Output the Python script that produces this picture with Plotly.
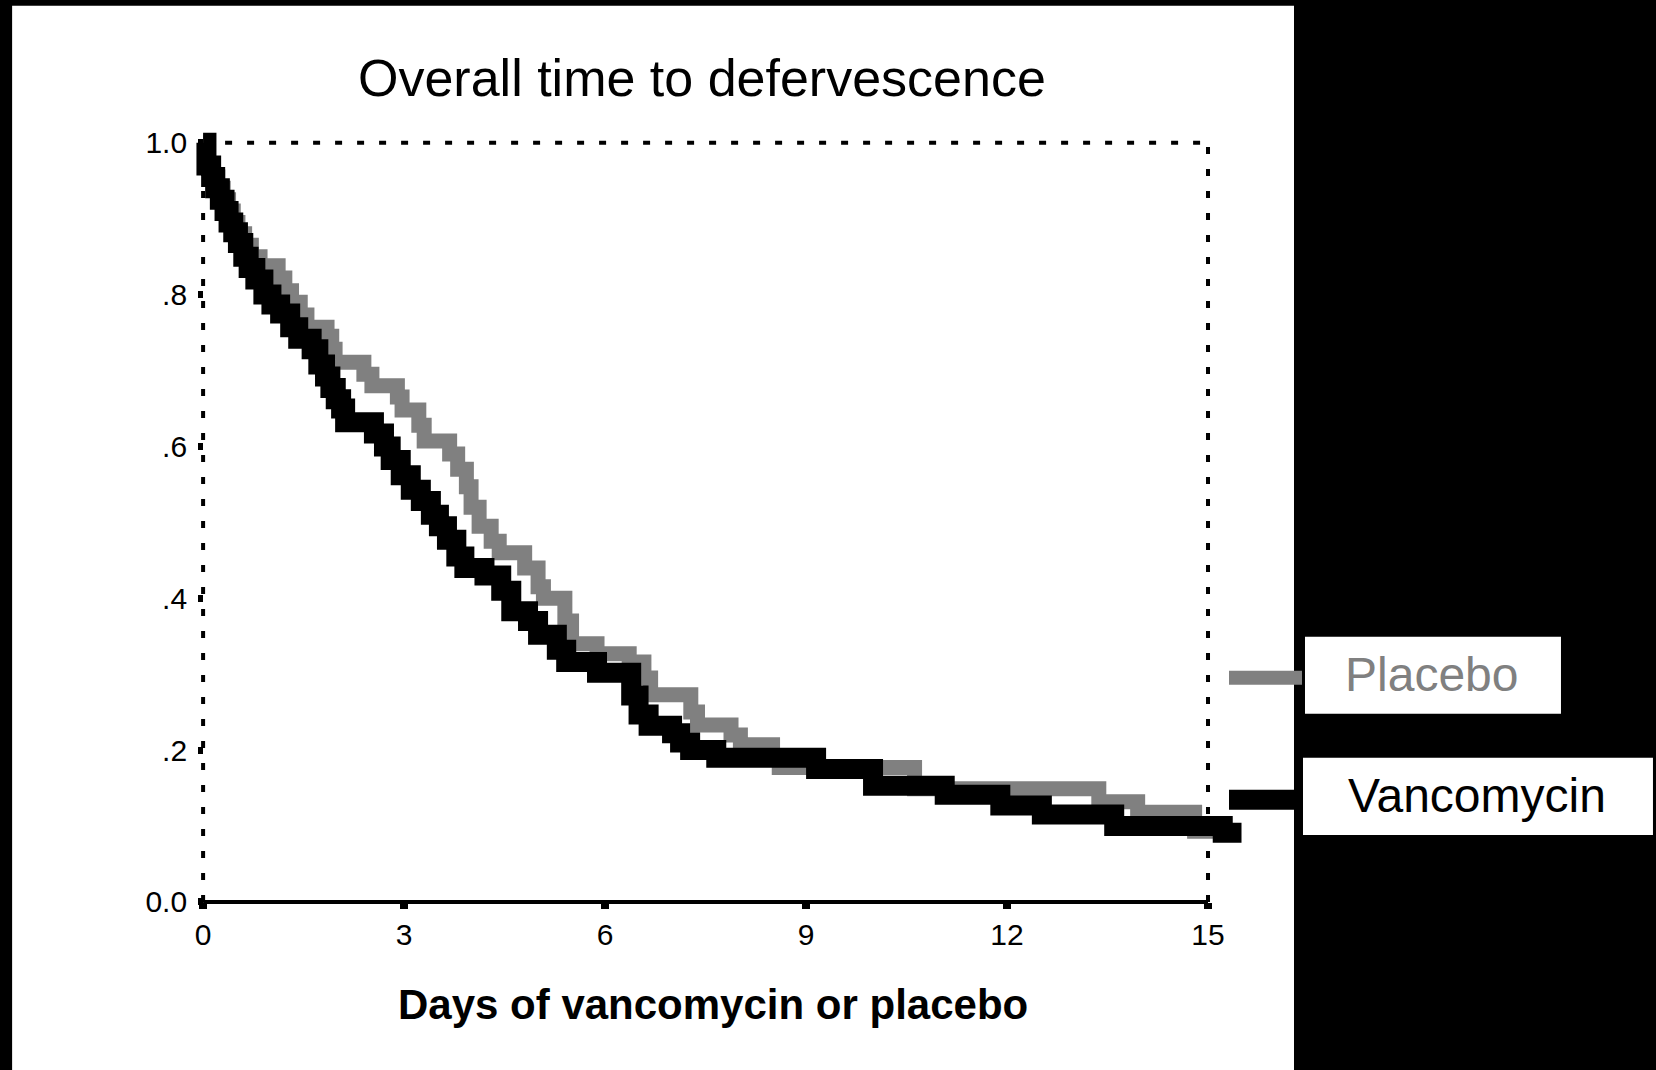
import plotly.graph_objects as go

# ---------------- data ----------------
vanco_days = [0, 0.05, 0.12, 0.18, 0.25, 0.32, 0.38, 0.45, 0.52, 0.60, 0.68, 0.78, 0.90, 1.02, 1.15,
              1.30, 1.42, 1.62, 1.72, 1.82, 1.90, 1.98, 2.06, 2.12, 2.55, 2.70, 2.80, 2.95, 3.10, 3.25,
              3.40, 3.52, 3.64, 3.78, 3.90, 4.20, 4.45, 4.60, 4.85, 5.00, 5.28, 5.42, 5.88, 6.39, 6.50,
              6.65, 7.00, 7.12, 7.27, 7.66, 9.15, 10.00, 11.07, 11.90, 12.52, 13.60, 15.22, 15.50]
vanco_surv = [1.0, 0.97, 0.955, 0.94, 0.925, 0.91, 0.895, 0.882, 0.868, 0.85, 0.835, 0.82, 0.80, 0.787, 0.775,
              0.757, 0.742, 0.728, 0.708, 0.692, 0.677, 0.662, 0.65, 0.632, 0.617, 0.60, 0.582, 0.562, 0.543, 0.528,
              0.51, 0.495, 0.477, 0.455, 0.44, 0.43, 0.41, 0.383, 0.37, 0.352, 0.332, 0.316, 0.302, 0.272, 0.247,
              0.232, 0.222, 0.21, 0.20, 0.19, 0.175, 0.153, 0.141, 0.127, 0.115, 0.10, 0.091, 0.091]

placebo_days = [0, 0.08, 0.15, 0.22, 0.30, 0.38, 0.45, 0.52, 0.62, 0.72, 0.85, 1.12, 1.22, 1.32, 1.45,
                1.55, 1.85, 1.92, 1.97, 2.40, 2.52, 2.90, 2.97, 3.22, 3.30, 3.68, 3.80, 3.93, 4.00, 4.12,
                4.30, 4.42, 4.80, 5.00, 5.08, 5.40, 5.50, 5.88, 6.36, 6.58, 6.68, 7.28, 7.38, 7.88, 8.02,
                8.50, 8.60, 10.62, 13.37, 13.95, 14.80, 15.12]
placebo_surv = [1.0, 0.97, 0.955, 0.94, 0.925, 0.91, 0.895, 0.88, 0.865, 0.85, 0.838, 0.822, 0.805, 0.79, 0.773,
                0.757, 0.745, 0.728, 0.711, 0.695, 0.68, 0.665, 0.648, 0.628, 0.607, 0.59, 0.57, 0.547, 0.52, 0.495,
                0.475, 0.46, 0.44, 0.415, 0.40, 0.37, 0.34, 0.327, 0.316, 0.295, 0.273, 0.25, 0.233, 0.22, 0.207,
                0.19, 0.177, 0.149, 0.132, 0.118, 0.093, 0.093]

x_ticks = [0, 3, 6, 9, 12, 15]
y_ticks = [0.0, 0.2, 0.4, 0.6, 0.8, 1.0]
y_ticktext = ["0.0", ".2", ".4", ".6", ".8", "1.0"]

title_text = "Overall time to defervescence"
xtitle_text = "Days of vancomycin or placebo"
series_names = ["Placebo", "Vancomycin"]

# ---------------- layout geometry ----------------
W, H = 1656, 1070
X0_PX, X15_PX = 203, 1208
Y0_PX, Y1_PX = 902, 143
ppd = (X15_PX - X0_PX) / 15.0
ppu = Y0_PX - Y1_PX
xmin, xmax = -0.3, 16.0
ymin, ymax = -0.012, 1.03
left = X0_PX + xmin * ppd
plot_w = (xmax - xmin) * ppd
right = W - left - plot_w
top = Y0_PX - ymax * ppu
plot_h = (ymax - ymin) * ppu
bottom = H - top - plot_h


def pxp(x):
    return (x - left) / plot_w


def pyp(y):
    return ((H - bottom) - y) / plot_h


FONT = "Liberation Sans, Arial, sans-serif"
GRAY = "#808080"

fig = go.Figure()
fig.add_trace(go.Scatter(x=placebo_days, y=placebo_surv, mode="lines", name=series_names[0],
                         line=dict(shape="hv", color=GRAY, width=15), hoverinfo="skip"))
fig.add_trace(go.Scatter(x=vanco_days, y=vanco_surv, mode="lines", name=series_names[1],
                         line=dict(shape="hv", color="black", width=20), hoverinfo="skip"))

shapes = []
# white page area over the black paper
shapes.append(dict(type="rect", xref="paper", yref="paper", x0=pxp(12), x1=pxp(1294), y0=pyp(1080), y1=pyp(6),
                   fillcolor="white", line=dict(width=0), layer="below"))
# frame
dash = "7px,15px"
shapes.append(dict(type="line", xref="x", yref="y", x0=0, x1=15, y0=1, y1=1,
                   line=dict(color="black", width=4, dash=dash), layer="below"))
shapes.append(dict(type="line", xref="x", yref="y", x0=0, x1=0, y0=0, y1=1,
                   line=dict(color="black", width=4, dash=dash), layer="below"))
shapes.append(dict(type="line", xref="x", yref="y", x0=15, x1=15, y0=0, y1=1,
                   line=dict(color="black", width=4, dash=dash), layer="below"))
shapes.append(dict(type="line", xref="x", yref="y", x0=0, x1=15, y0=0, y1=0,
                   line=dict(color="black", width=4), layer="below"))
# legend boxes and swatches
shapes.append(dict(type="rect", xref="paper", yref="paper", x0=pxp(1305), x1=pxp(1561), y0=pyp(714), y1=pyp(637),
                   fillcolor="white", line=dict(width=0)))
shapes.append(dict(type="rect", xref="paper", yref="paper", x0=pxp(1303), x1=pxp(1653), y0=pyp(835), y1=pyp(758),
                   fillcolor="white", line=dict(width=0)))
shapes.append(dict(type="line", xref="paper", yref="paper", x0=pxp(1229), x1=pxp(1302), y0=pyp(678), y1=pyp(678),
                   line=dict(color=GRAY, width=14)))
shapes.append(dict(type="line", xref="paper", yref="paper", x0=pxp(1229), x1=pxp(1303), y0=pyp(800), y1=pyp(800),
                   line=dict(color="black", width=20)))

annotations = [
    dict(text=title_text, xref="paper", yref="paper", x=pxp(702), y=pyp(78), showarrow=False,
         xanchor="center", yanchor="middle", font=dict(family=FONT, size=52, color="black")),
    dict(text="<b>" + xtitle_text + "</b>", xref="paper", yref="paper", x=pxp(713), y=pyp(1005), showarrow=False,
         xanchor="center", yanchor="middle", font=dict(family=FONT, size=42, color="black")),
    dict(text=series_names[0], xref="paper", yref="paper", x=pxp(1432), y=pyp(675), showarrow=False,
         xanchor="center", yanchor="middle", font=dict(family=FONT, size=48, color=GRAY)),
    dict(text=series_names[1], xref="paper", yref="paper", x=pxp(1477), y=pyp(796), showarrow=False,
         xanchor="center", yanchor="middle", font=dict(family=FONT, size=48, color="black")),
]

fig.update_layout(
    width=W, height=H,
    margin=dict(l=left, r=right, t=top, b=bottom, pad=0),
    paper_bgcolor="black", plot_bgcolor="white",
    showlegend=False,
    shapes=shapes, annotations=annotations,
    xaxis=dict(range=[xmin, xmax], tickvals=x_ticks, ticks="outside", ticklen=6, tickwidth=8,
               tickcolor="black", showline=False, showgrid=False, zeroline=False,
               anchor="free", position=(0 - ymin) / (ymax - ymin), automargin=False,
               ticklabelstandoff=0, tickfont=dict(family=FONT, size=30, color="black")),
    yaxis=dict(range=[ymin, ymax], tickvals=y_ticks, ticktext=y_ticktext, ticks="outside", ticklen=5,
               tickwidth=7, tickcolor="black", showline=False, showgrid=False, zeroline=False,
               anchor="free", position=(0 - xmin) / (xmax - xmin), automargin=False,
               ticklabelstandoff=5, tickfont=dict(family=FONT, size=30, color="black")),
)

fig.write_html("out.html",
               config={"displayModeBar": False, "staticPlot": True},
               post_script="document.body.style.margin='0';document.body.style.padding='0';"
                           "document.body.style.background='black';")
